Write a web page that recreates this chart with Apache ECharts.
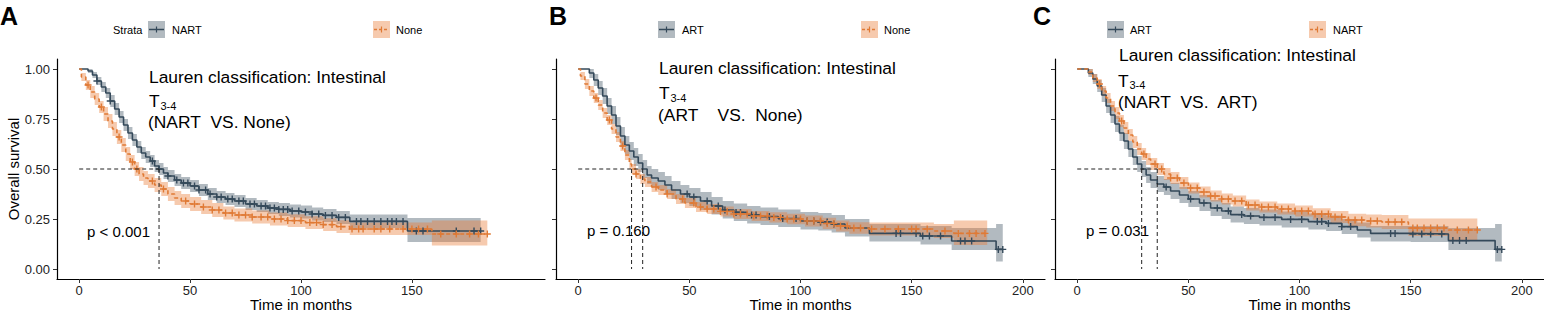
<!DOCTYPE html>
<html>
<head>
<meta charset="utf-8">
<title>Overall survival – Lauren classification: Intestinal</title>
<script src="https://cdn.jsdelivr.net/npm/echarts@6/dist/echarts.min.js"></script>
<style>
  html, body { margin: 0; padding: 0; background: #fff; }
  #chart { width: 1544px; height: 312px; }
</style>
</head>
<body>
<div id="chart"></div>
<script>
// ticks
const xTicksA = [0, 50, 100, 150];
const xTicksBC = [0, 50, 100, 150, 200];
const yTicks = [0, 0.25, 0.5, 0.75, 1];

// panel A: NART (dark) vs None (orange)
const timeA1 = [0, 4, 6, 8, 10, 12, 14, 16, 18, 20, 22, 24, 26, 28, 30, 32, 34, 36, 38, 40, 43, 46, 50, 54, 58, 62, 66, 70, 75, 80, 85, 90, 95, 100, 105, 110, 116, 122, 148, 181];
const survA1 = [1, 0.99, 0.97, 0.94, 0.91, 0.88, 0.84, 0.80, 0.76, 0.72, 0.68, 0.645, 0.61, 0.58, 0.56, 0.54, 0.515, 0.50, 0.48, 0.465, 0.445, 0.43, 0.415, 0.395, 0.375, 0.36, 0.35, 0.34, 0.325, 0.315, 0.305, 0.298, 0.29, 0.285, 0.275, 0.268, 0.258, 0.238, 0.19, 0.19];
const lowA1 = [1, 0.98, 0.955, 0.92, 0.885, 0.855, 0.81, 0.77, 0.73, 0.69, 0.65, 0.615, 0.58, 0.55, 0.53, 0.51, 0.485, 0.47, 0.45, 0.435, 0.415, 0.40, 0.385, 0.365, 0.345, 0.33, 0.32, 0.31, 0.295, 0.285, 0.275, 0.265, 0.258, 0.252, 0.242, 0.235, 0.225, 0.205, 0.135, 0.135];
const upA1 = [1, 1, 0.985, 0.96, 0.935, 0.905, 0.87, 0.83, 0.79, 0.75, 0.71, 0.675, 0.64, 0.61, 0.59, 0.57, 0.545, 0.53, 0.51, 0.495, 0.475, 0.46, 0.445, 0.425, 0.405, 0.39, 0.38, 0.37, 0.355, 0.345, 0.335, 0.33, 0.322, 0.318, 0.308, 0.30, 0.29, 0.272, 0.255, 0.255];
const censA1 = [8, 14, 33, 36, 40, 44, 47, 49, 52, 54, 57, 59, 62, 64, 67, 69, 72, 74, 77, 79, 82, 84, 86, 88, 90, 92, 94, 96, 99, 102, 105, 108, 111, 114, 117, 120, 125, 127, 130, 133, 136, 139, 141, 143, 146, 152, 155, 170, 178, 181];

const timeA2 = [0, 1, 3, 5, 7, 9, 11, 13, 15, 17, 19, 21, 23, 25, 27, 29, 31, 34, 37, 40, 43, 46, 50, 55, 60, 65, 70, 78, 86, 94, 102, 110, 116, 122, 159, 184];
const survA2 = [1, 0.96, 0.92, 0.885, 0.85, 0.81, 0.775, 0.74, 0.70, 0.66, 0.62, 0.575, 0.535, 0.50, 0.475, 0.455, 0.44, 0.42, 0.40, 0.375, 0.355, 0.34, 0.325, 0.31, 0.295, 0.28, 0.27, 0.26, 0.25, 0.242, 0.232, 0.222, 0.212, 0.2, 0.175, 0.175];
const lowA2 = [1, 0.94, 0.895, 0.855, 0.82, 0.78, 0.74, 0.705, 0.665, 0.625, 0.585, 0.54, 0.50, 0.465, 0.44, 0.42, 0.405, 0.385, 0.365, 0.34, 0.32, 0.305, 0.29, 0.275, 0.26, 0.248, 0.238, 0.228, 0.218, 0.21, 0.2, 0.19, 0.18, 0.17, 0.118, 0.118];
const upA2 = [1, 0.98, 0.945, 0.915, 0.88, 0.84, 0.81, 0.775, 0.735, 0.695, 0.655, 0.61, 0.57, 0.535, 0.51, 0.49, 0.475, 0.455, 0.435, 0.41, 0.39, 0.375, 0.36, 0.345, 0.33, 0.313, 0.302, 0.292, 0.282, 0.274, 0.264, 0.254, 0.244, 0.232, 0.242, 0.242];
const censA2 = [4, 10, 18, 24, 26, 33, 38, 48, 52, 56, 60, 63, 66, 69, 72, 75, 78, 82, 85, 88, 91, 94, 97, 100, 104, 107, 110, 114, 118, 123, 126, 128, 133, 136, 140, 146, 150, 153, 157, 163, 170, 176, 180, 184];
const medA = [36];

// panel B: ART (dark) vs None (orange)
const timeB1 = [0, 5, 7, 9, 11, 13, 15, 17, 19, 21, 23, 25, 27, 29, 31, 33, 36, 39, 42, 46, 50, 55, 60, 65, 70, 76, 82, 90, 100, 108, 114, 120, 131, 154, 168, 188, 191];
const survB1 = [1, 0.98, 0.945, 0.905, 0.865, 0.815, 0.77, 0.715, 0.665, 0.62, 0.59, 0.56, 0.53, 0.50, 0.47, 0.455, 0.44, 0.42, 0.395, 0.375, 0.36, 0.34, 0.315, 0.295, 0.283, 0.27, 0.262, 0.252, 0.24, 0.235, 0.225, 0.205, 0.178, 0.165, 0.14, 0.098, 0.098];
const lowB1 = [1, 0.955, 0.915, 0.87, 0.825, 0.775, 0.725, 0.67, 0.62, 0.575, 0.545, 0.515, 0.485, 0.455, 0.425, 0.41, 0.395, 0.375, 0.35, 0.33, 0.315, 0.295, 0.272, 0.252, 0.24, 0.228, 0.22, 0.21, 0.198, 0.193, 0.183, 0.163, 0.138, 0.122, 0.095, 0.037, 0.037];
const upB1 = [1, 1, 0.975, 0.94, 0.905, 0.855, 0.815, 0.76, 0.71, 0.665, 0.635, 0.605, 0.575, 0.545, 0.515, 0.5, 0.485, 0.465, 0.44, 0.42, 0.405, 0.385, 0.36, 0.34, 0.328, 0.315, 0.307, 0.297, 0.285, 0.28, 0.27, 0.25, 0.225, 0.215, 0.205, 0.225, 0.225];
const censB1 = [49, 52, 58, 63, 66, 71, 73, 78, 80, 86, 92, 98, 103, 106, 109, 112, 115, 143, 145, 152, 155, 158, 163, 172, 174, 177, 189, 191];

const timeB2 = [0, 1, 3, 5, 7, 9, 11, 13, 15, 17, 19, 21, 23, 24, 26, 28, 30, 33, 36, 40, 44, 48, 53, 58, 64, 70, 78, 86, 94, 102, 110, 116, 122, 131, 160, 169, 184];
const survB2 = [1, 0.965, 0.925, 0.89, 0.855, 0.82, 0.78, 0.745, 0.70, 0.66, 0.615, 0.57, 0.525, 0.50, 0.475, 0.45, 0.435, 0.41, 0.395, 0.375, 0.35, 0.33, 0.31, 0.30, 0.288, 0.275, 0.265, 0.258, 0.25, 0.24, 0.228, 0.215, 0.205, 0.2, 0.19, 0.178, 0.178];
const lowB2 = [1, 0.945, 0.9, 0.865, 0.83, 0.795, 0.755, 0.72, 0.675, 0.635, 0.59, 0.545, 0.5, 0.475, 0.45, 0.425, 0.41, 0.385, 0.37, 0.35, 0.325, 0.305, 0.285, 0.275, 0.263, 0.25, 0.24, 0.232, 0.224, 0.213, 0.2, 0.187, 0.176, 0.168, 0.155, 0.12, 0.12];
const upB2 = [1, 0.985, 0.95, 0.915, 0.88, 0.845, 0.805, 0.77, 0.725, 0.685, 0.64, 0.595, 0.55, 0.525, 0.5, 0.475, 0.46, 0.435, 0.42, 0.4, 0.375, 0.355, 0.335, 0.325, 0.313, 0.3, 0.29, 0.284, 0.276, 0.267, 0.256, 0.243, 0.234, 0.232, 0.225, 0.242, 0.242];
const censB2 = [8, 14, 20, 26, 35, 40, 47, 52, 55, 58, 61, 64, 67, 70, 73, 76, 79, 82, 85, 88, 91, 94, 97, 100, 103, 106, 109, 112, 115, 118, 121, 124, 127, 132, 138, 144, 150, 152, 157, 165, 171, 176, 179, 183];
const medB = [24, 29];

// panel C: ART (dark) vs NART (orange)
const timeC1 = [0, 5, 7, 9, 11, 13, 15, 17, 19, 21, 23, 25, 27, 29, 31, 33, 36, 39, 42, 46, 50, 55, 60, 65, 69, 75, 82, 92, 104, 112, 119, 126, 132, 150, 167, 188, 191];
const survC1 = [1, 0.98, 0.95, 0.915, 0.87, 0.815, 0.77, 0.725, 0.68, 0.64, 0.60, 0.56, 0.525, 0.50, 0.47, 0.445, 0.425, 0.41, 0.39, 0.37, 0.35, 0.33, 0.305, 0.29, 0.272, 0.265, 0.258, 0.248, 0.237, 0.228, 0.212, 0.195, 0.178, 0.175, 0.142, 0.098, 0.098];
const lowC1 = [1, 0.96, 0.925, 0.885, 0.835, 0.78, 0.73, 0.685, 0.64, 0.6, 0.56, 0.52, 0.485, 0.46, 0.43, 0.405, 0.385, 0.37, 0.35, 0.33, 0.31, 0.29, 0.265, 0.25, 0.233, 0.225, 0.218, 0.208, 0.198, 0.19, 0.175, 0.158, 0.138, 0.135, 0.095, 0.037, 0.037];
const upC1 = [1, 1, 0.975, 0.945, 0.905, 0.85, 0.81, 0.765, 0.72, 0.68, 0.64, 0.6, 0.565, 0.54, 0.51, 0.485, 0.465, 0.45, 0.43, 0.41, 0.39, 0.37, 0.345, 0.33, 0.312, 0.305, 0.298, 0.288, 0.277, 0.268, 0.25, 0.233, 0.215, 0.215, 0.205, 0.225, 0.225];
const censC1 = [40, 51, 57, 63, 68, 74, 78, 84, 89, 96, 101, 108, 110, 113, 119, 123, 141, 143, 151, 155, 159, 164, 169, 172, 175, 189, 191];

const timeC2 = [0, 5, 7, 9, 11, 13, 15, 17, 19, 21, 23, 25, 27, 29, 31, 33, 36, 39, 42, 46, 50, 55, 60, 65, 70, 76, 82, 90, 98, 106, 114, 122, 130, 137, 149, 167, 180];
const survC2 = [1, 0.985, 0.955, 0.925, 0.89, 0.855, 0.815, 0.78, 0.74, 0.705, 0.67, 0.635, 0.60, 0.575, 0.55, 0.525, 0.50, 0.475, 0.455, 0.43, 0.405, 0.385, 0.365, 0.35, 0.34, 0.32, 0.31, 0.30, 0.29, 0.275, 0.26, 0.245, 0.24, 0.235, 0.205, 0.195, 0.195];
const lowC2 = [1, 0.97, 0.935, 0.9, 0.865, 0.83, 0.79, 0.75, 0.71, 0.675, 0.64, 0.605, 0.57, 0.545, 0.52, 0.495, 0.47, 0.445, 0.425, 0.4, 0.378, 0.358, 0.338, 0.323, 0.313, 0.293, 0.283, 0.272, 0.262, 0.246, 0.23, 0.214, 0.208, 0.2, 0.165, 0.14, 0.14];
const upC2 = [1, 1, 0.975, 0.95, 0.915, 0.88, 0.84, 0.81, 0.77, 0.735, 0.7, 0.665, 0.63, 0.605, 0.58, 0.555, 0.53, 0.505, 0.485, 0.46, 0.432, 0.412, 0.392, 0.377, 0.367, 0.347, 0.337, 0.328, 0.318, 0.304, 0.29, 0.276, 0.272, 0.27, 0.253, 0.253, 0.253];
const censC2 = [10, 20, 30, 35, 38, 42, 45, 48, 51, 54, 57, 60, 62, 65, 68, 71, 74, 77, 80, 83, 86, 89, 92, 95, 98, 101, 104, 107, 110, 113, 116, 119, 122, 125, 128, 132, 135, 140, 143, 146, 151, 153, 156, 159, 162, 165, 171, 176, 180];
const medC = [29, 36];

const FONT = '"Liberation Sans", Arial, Helvetica, sans-serif';
const DARK = '#34495a';
const DARK_BAND = 'rgba(52,73,90,0.38)';
const ORANGE = '#e07a35';
const ORANGE_BAND = 'rgba(232,122,52,0.40)';
const PLUS = 'path://M2.8,0h1.4v2.8h2.8v1.4h-2.8v2.8h-1.4v-2.8h-2.8v-1.4h2.8z';

const panels = [
  { left: 57, width: 488, xticks: xTicksA, medians: medA, curves: [
    { time: timeA1, surv: survA1, low: lowA1, up: upA1, cens: censA1, dark: true },
    { time: timeA2, surv: survA2, low: lowA2, up: upA2, cens: censA2, dark: false } ] },
  { left: 556, width: 489, xticks: xTicksBC, medians: medB, curves: [
    { time: timeB1, surv: survB1, low: lowB1, up: upB1, cens: censB1, dark: true },
    { time: timeB2, surv: survB2, low: lowB2, up: upB2, cens: censB2, dark: false } ] },
  { left: 1055, width: 489, xticks: xTicksBC, medians: medC, curves: [
    { time: timeC1, surv: survC1, low: lowC1, up: upC1, cens: censC1, dark: true },
    { time: timeC2, surv: survC2, low: lowC2, up: upC2, cens: censC2, dark: false } ] }
];

// value of a step curve at time t
function survAt(time, surv, t) {
  let v = surv[0];
  for (let i = 0; i < time.length; i++) if (time[i] <= t) v = surv[i];
  return v;
}

// stepped confidence band drawn as one polygon from the series' own data
function bandRenderer(color) {
  return function (params, api) {
    if (params.dataIndexInside !== 0) return null;
    const n = params.dataInsideLength;
    const top = [], bottom = [];
    for (let i = 0; i < n; i++) {
      const t = api.value(0, i);
      const tNext = i < n - 1 ? api.value(0, i + 1) : t;
      const lo = api.value(1, i), hi = api.value(2, i);
      top.push(api.coord([t, hi]), api.coord([tNext, hi]));
      bottom.push(api.coord([t, lo]), api.coord([tNext, lo]));
    }
    return { type: 'polygon', shape: { points: top.concat(bottom.reverse()) }, style: { fill: color } };
  };
}

const grid = [], xAxis = [], yAxis = [], series = [];

panels.forEach((p, g) => {
  grid.push({ left: p.left, top: 59, width: p.width, height: 220, outerBoundsMode: 'none' });
  xAxis.push({
    gridIndex: g, type: 'value', min: -10, max: 210,
    axisLine: { show: true, onZero: false, lineStyle: { color: '#000', width: 1.2 } },
    axisTick: { show: true, length: 4, customValues: p.xticks, lineStyle: { color: '#333' } },
    axisLabel: { customValues: p.xticks, fontSize: 13, color: '#222', margin: 5, fontFamily: FONT },
    splitLine: { show: false },
    name: 'Time in months', nameLocation: 'middle', nameGap: 18, nameMoveOverlap: false,
    nameTextStyle: { fontSize: 15, color: '#000', fontFamily: FONT }
  });
  yAxis.push({
    gridIndex: g, type: 'value', min: -0.05, max: 1.05,
    axisLine: { show: true, onZero: false, lineStyle: { color: '#000', width: 1.2 } },
    axisTick: { show: true, length: 4, customValues: yTicks, lineStyle: { color: '#333' } },
    axisLabel: { show: g === 0, customValues: yTicks, formatter: v => v.toFixed(2),
      fontSize: 13, color: '#222', margin: 7, fontFamily: FONT },
    splitLine: { show: false },
    name: g === 0 ? 'Overall survival' : '', nameLocation: 'middle', nameGap: 36, nameMoveOverlap: false,
    nameTextStyle: { fontSize: 15, color: '#000', fontFamily: FONT }
  });

  const ax = { xAxisIndex: g, yAxisIndex: g };
  // confidence bands
  p.curves.forEach(c => {
    series.push({ type: 'custom', ...ax, silent: true, z: 1, clip: true,
      renderItem: bandRenderer(c.dark ? DARK_BAND : ORANGE_BAND),
      encode: { x: 0, y: [1, 2] },
      data: c.time.map((t, i) => [t, c.low[i], c.up[i]]) });
  });
  // survival curves
  p.curves.forEach(c => {
    series.push({ type: 'line', ...ax, step: 'end', symbol: 'none', silent: true, z: 3,
      lineStyle: { color: c.dark ? DARK : ORANGE, width: 1.6, type: c.dark ? 'solid' : [4, 3] },
      data: c.time.map((t, i) => [t, c.surv[i]]) });
  });
  // censor marks
  p.curves.forEach(c => {
    series.push({ type: 'scatter', ...ax, symbol: PLUS, symbolSize: 7, silent: true, z: 4,
      itemStyle: { color: c.dark ? DARK : ORANGE, opacity: 1 },
      data: c.cens.map(t => [t, survAt(c.time, c.surv, t)]) });
  });
  // median lines
  const mLine = { color: '#222', width: 1, type: [4, 3] };
  series.push({ type: 'line', ...ax, symbol: 'none', silent: true, z: 5, lineStyle: mLine,
    data: [[0, 0.5], [Math.max(...p.medians), 0.5]] });
  p.medians.forEach(m => {
    series.push({ type: 'line', ...ax, symbol: 'none', silent: true, z: 5, lineStyle: mLine,
      data: [[m, 0.5], [m, 0]] });
  });
});

function txt(text, x, y, size, weight) {
  return { type: 'text', x, y, z: 10, style: { text, x: 0, y: 0, fontSize: size, fontWeight: weight || 'normal',
    fontFamily: FONT, fill: '#000', align: 'left', verticalAlign: 'middle' } };
}
function key(x, line, band, dashed) {
  return { type: 'group', x, y: 21, z: 10, children: [
    { type: 'rect', shape: { x: 0, y: 0, width: 17, height: 17 }, style: { fill: band } },
    { type: 'line', shape: { x1: 1, y1: 8.5, x2: 16, y2: 8.5 }, style: { stroke: line, lineWidth: 1.5, lineDash: dashed ? [3, 2] : null } },
    { type: 'line', shape: { x1: 8.5, y1: 5.5, x2: 8.5, y2: 11.5 }, style: { stroke: line, lineWidth: 1.2 } }
  ] };
}

const graphic = [
  txt('A', 0, 16, 25, 'bold'), txt('B', 549, 16, 25, 'bold'), txt('C', 1033, 16, 25, 'bold'),
  txt('Strata', 113, 29.5, 11),
  key(148, DARK, DARK_BAND, false), txt('NART', 172, 29.5, 11),
  key(373, ORANGE, ORANGE_BAND, true), txt('None', 396, 29.5, 11),
  key(658, DARK, DARK_BAND, false), txt('ART', 682, 29.5, 11),
  key(861, ORANGE, ORANGE_BAND, true), txt('None', 884, 29.5, 11),
  key(1107, DARK, DARK_BAND, false), txt('ART', 1130, 29.5, 11),
  key(1309, ORANGE, ORANGE_BAND, true), txt('NART', 1333, 29.5, 11),

  txt('Lauren classification: Intestinal', 149, 77, 17.4),
  txt('T', 149, 100.5, 17.4), txt('3-4', 160.5, 106, 11),
  txt('(NART\u00a0 VS. None)', 148, 122, 17.4),
  txt('p < 0.001', 87, 231, 15),

  txt('Lauren classification: Intestinal', 659, 68, 17.4),
  txt('T', 659, 93, 17.4), txt('3-4', 670.5, 98, 11),
  txt('(ART\u00a0 \u00a0 VS.\u00a0 None)', 658, 114.5, 17.4),
  txt('p = 0.160', 587, 230, 15),

  txt('Lauren classification: Intestinal', 1119, 55, 17.4),
  txt('T', 1118, 80.5, 17.4), txt('3-4', 1129.5, 85, 11),
  txt('(NART\u00a0 VS.\u00a0 ART)', 1118, 101.5, 17.4),
  txt('p = 0.031', 1086, 230, 15)
];

const chart = echarts.init(document.getElementById('chart'), null, { renderer: 'svg' });
chart.setOption({
  animation: false,
  backgroundColor: '#fff',
  grid, xAxis, yAxis, series, graphic
});
</script>
</body>
</html>
